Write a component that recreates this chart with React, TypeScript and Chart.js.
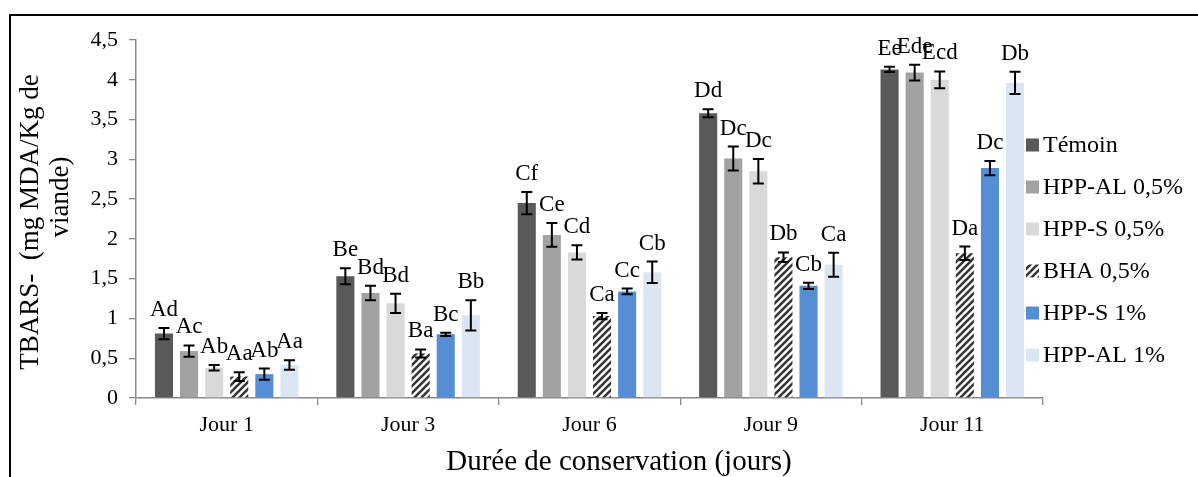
import React, { useEffect, useRef } from 'react';
import { Chart, registerables } from 'chart.js';

Chart.register(...registerables);

const categories = ['Jour 1', 'Jour 3', 'Jour 6', 'Jour 9', 'Jour 11'];
const seriesNames = ['Témoin', 'HPP-AL 0,5%', 'HPP-S 0,5%', 'BHA 0,5%', 'HPP-S 1%', 'HPP-AL 1%'];

const temoin = [0.81, 1.53, 2.45, 3.58, 4.13];
const hppAl05 = [0.59, 1.32, 2.05, 3.01, 4.09];
const hppS05 = [0.38, 1.19, 1.83, 2.85, 4.0];
const bha05 = [0.27, 0.56, 1.03, 1.77, 1.82];
const hppS1 = [0.3, 0.8, 1.34, 1.41, 2.89];
const hppAl1 = [0.415, 1.04, 1.58, 1.675, 3.96];

const errTemoin = [0.07, 0.1, 0.14, 0.05, 0.033];
const errHppAl05 = [0.07, 0.09, 0.15, 0.15, 0.1];
const errHppS05 = [0.035, 0.12, 0.09, 0.155, 0.105];
const errBha05 = [0.055, 0.05, 0.04, 0.06, 0.084];
const errHppS1 = [0.07, 0.02, 0.035, 0.04, 0.09];
const errHppAl1 = [0.06, 0.19, 0.135, 0.15, 0.14];

const labTemoin = ['Ad', 'Be', 'Cf', 'Dd', 'Ee'];
const labHppAl05 = ['Ac', 'Bd', 'Ce', 'Dc', 'Ede'];
const labHppS05 = ['Ab', 'Bd', 'Cd', 'Dc', 'Ecd'];
const labBha05 = ['Aa', 'Ba', 'Ca', 'Db', 'Da'];
const labHppS1 = ['Ab', 'Bc', 'Cc', 'Cb', 'Dc'];
const labHppAl1 = ['Aa', 'Bb', 'Cb', 'Ca', 'Db'];

const yMin = 0;
const yMax = 4.5;
const yStep = 0.5;

const yTitleLine1 = 'TBARS-  (mg MDA/Kg de';
const yTitleLine2 = 'viande)';
const xTitle = 'Durée de conservation (jours)';

const FONT = '"Liberation Serif", "Times New Roman", serif';
const AXIS = '#898989';

function makeHatch(): CanvasPattern | string {
  const c = document.createElement('canvas');
  const s = 7;
  c.width = s;
  c.height = s;
  const g = c.getContext('2d');
  if (!g) return '#555';
  g.fillStyle = '#ffffff';
  g.fillRect(0, 0, s, s);
  g.strokeStyle = '#363636';
  g.lineWidth = 2.6;
  g.beginPath();
  g.moveTo(-2, s + 2);
  g.lineTo(s + 2, -2);
  g.moveTo(-2, 2);
  g.lineTo(2, -2);
  g.moveTo(s - 2, s + 2);
  g.lineTo(s + 2, s - 2);
  g.stroke();
  return g.createPattern(c, 'repeat') || '#555';
}

export default function App() {
  const ref = useRef<HTMLCanvasElement | null>(null);

  useEffect(() => {
    const canvas = ref.current;
    if (!canvas) return;
    const hatch = makeHatch();
    const values = [temoin, hppAl05, hppS05, bha05, hppS1, hppAl1];
    const errors = [errTemoin, errHppAl05, errHppS05, errBha05, errHppS1, errHppAl1];
    const labels = [labTemoin, labHppAl05, labHppS05, labBha05, labHppS1, labHppAl1];
    const colors: (string | CanvasPattern)[] = ['#595959', '#a2a2a2', '#d9d9d9', hatch, '#558ed5', '#dce6f2'];

    const overlay = {
      id: 'overlay',
      afterDatasetsDraw(chart: any) {
        const ctx = chart.ctx as CanvasRenderingContext2D;
        const ys = chart.scales.y;
        ctx.save();
        for (let d = 0; d < values.length; d++) {
          const meta = chart.getDatasetMeta(d);
          meta.data.forEach((bar: any, i: number) => {
            const v = values[d][i];
            const e = errors[d][i];
            const x = bar.x;
            const yt = ys.getPixelForValue(v + e);
            const yb = ys.getPixelForValue(v - e);
            ctx.strokeStyle = '#000';
            ctx.lineWidth = 2;
            ctx.beginPath();
            ctx.moveTo(x, yt);
            ctx.lineTo(x, yb);
            ctx.moveTo(x - 5.5, yt);
            ctx.lineTo(x + 5.5, yt);
            ctx.moveTo(x - 5.5, yb);
            ctx.lineTo(x + 5.5, yb);
            ctx.stroke();
            ctx.fillStyle = '#000';
            ctx.font = '23px ' + FONT;
            ctx.textAlign = 'center';
            ctx.textBaseline = 'alphabetic';
            ctx.fillText(labels[d][i], x, yt - 12);
          });
        }
        ctx.restore();
      },
      afterDraw(chart: any) {
        const ctx = chart.ctx as CanvasRenderingContext2D;
        ctx.save();
        // legend
        for (let i = 0; i < seriesNames.length; i++) {
          const cy = 145 + i * 42;
          ctx.fillStyle = colors[i] as any;
          ctx.fillRect(1026, cy - 6.5, 13, 13);
          ctx.fillStyle = '#000';
          ctx.font = '24px ' + FONT;
          ctx.textAlign = 'left';
          ctx.textBaseline = 'middle';
          ctx.fillText(seriesNames[i], 1043, cy + 1);
        }
        // y title
        ctx.font = '27px ' + FONT;
        ctx.textAlign = 'center';
        ctx.textBaseline = 'middle';
        ctx.save();
        ctx.translate(31, 222);
        ctx.rotate(-Math.PI / 2);
        ctx.fillText(yTitleLine1, 0, 0);
        ctx.restore();
        ctx.save();
        ctx.translate(61, 197);
        ctx.rotate(-Math.PI / 2);
        ctx.fillText(yTitleLine2, 0, 0);
        ctx.restore();
        // x title
        ctx.font = '29px ' + FONT;
        ctx.textBaseline = 'alphabetic';
        ctx.fillText(xTitle, 619, 470);
        ctx.restore();
      },
    };

    const chart = new Chart(canvas, {
      type: 'bar',
      data: {
        labels: categories,
        datasets: seriesNames.map((name, i) => ({
          label: name,
          data: values[i],
          backgroundColor: colors[i] as any,
          borderWidth: 0,
          barPercentage: 0.72,
          categoryPercentage: 0.83,
        })),
      },
      options: {
        animation: false,
        responsive: false,
        maintainAspectRatio: false,
        events: [],
        layout: { padding: { top: 40, right: 155, left: 0, bottom: 0 } },
        plugins: { legend: { display: false }, tooltip: { enabled: false } },
        scales: {
          x: {
            grid: { display: true, drawOnChartArea: false, offset: true, tickLength: 7, color: AXIS, lineWidth: 1.3 },
            border: { color: AXIS, width: 1.5 },
            ticks: { font: { family: FONT, size: 22 }, color: '#000', padding: 7 },
            afterFit: (s: any) => {
              s.height = 79;
            },
          },
          y: {
            min: yMin,
            max: yMax,
            ticks: {
              stepSize: yStep,
              font: { family: FONT, size: 22 },
              color: '#000',
              padding: 11,
              callback: (v: any) => String(v).replace('.', ','),
            },
            grid: { drawOnChartArea: false, tickLength: 7, color: AXIS, lineWidth: 1.3 },
            border: { color: AXIS, width: 1.5 },
            afterFit: (s: any) => {
              s.width = 136;
            },
          },
        },
      },
      plugins: [overlay],
    });
    return () => chart.destroy();
  }, []);

  return (
    <div style={{ position: 'fixed', left: 0, top: 0, width: 1198, height: 477, background: '#fff', overflow: 'hidden' }}>
      <div
        style={{
          position: 'absolute',
          left: 9,
          top: 14,
          width: 1300,
          height: 600,
          borderTop: '2px solid #000',
          borderLeft: '2px solid #000',
        }}
      />
      <canvas ref={ref} width={1198} height={477} style={{ position: 'absolute', left: 0, top: 0, width: 1198, height: 477 }} />
    </div>
  );
}
